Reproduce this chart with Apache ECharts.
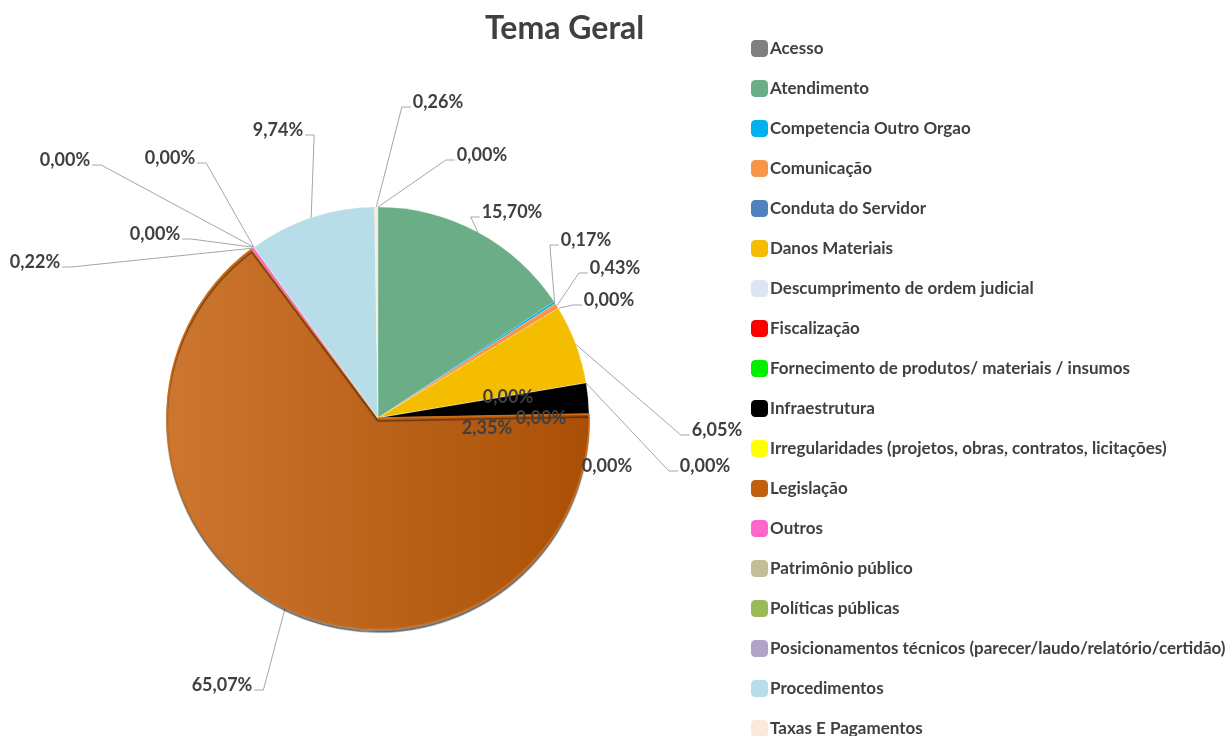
<!DOCTYPE html>
<html>
<head>
<meta charset="utf-8">
<script src="https://cdn.jsdelivr.net/npm/echarts@6/dist/echarts.min.js"></script>
<style>
html,body{margin:0;padding:0;background:#fff;}
#chart{width:1226px;height:736px;}
</style>
</head>
<body>
<div id="chart"></div>
<script>
var categories = [
  'Acesso', 'Atendimento', 'Competencia Outro Orgao', 'Comunicação', 'Conduta do Servidor',
  'Danos Materiais', 'Descumprimento de ordem judicial', 'Fiscalização',
  'Fornecimento de produtos/ materiais / insumos', 'Infraestrutura',
  'Irregularidades (projetos, obras, contratos, licitações)', 'Legislação', 'Outros',
  'Patrimônio público', 'Políticas públicas',
  'Posicionamentos técnicos (parecer/laudo/relatório/certidão)', 'Procedimentos',
  'Taxas E Pagamentos'
];
var values = [0, 15.70, 0.17, 0.43, 0, 6.05, 0, 0, 0, 2.35, 0, 65.07, 0.22, 0, 0, 0, 9.74, 0.26];
var colors = [
  '#7f7f7f', '#6aad87', '#00b0f0', '#f79646', '#4f81bd', '#f5bd00', '#dce6f2', '#ff0000',
  '#00f000', '#000000', '#ffff00', '#c0600e', '#ff66cc', '#c4bd97', '#9bbb59', '#b3a2c7',
  '#b7dee8', '#fde9d9'
];
// label placement: [centerX, centerY, leaderSide] (1: line enters from left, -1: from right, 0: no line)
var labelSpots = [
  [482, 155, 1], [512, 212, 1], [586, 240, 1], [615, 268, 1], [609, 300, 1],
  [717, 430, 1], [508, 397, 0], [541, 418, 0], [705, 466, 1], [487, 428, 0],
  [607, 466, 0], [222, 685, -1], [35, 262, -1], [155, 234, -1], [65, 160, -1],
  [170, 158, -1], [278, 130, -1], [438, 102, 1]
];

function fmt(v) { return v.toFixed(2).replace('.', ',') + '%'; }

var data = categories.map(function (c, i) {
  var item = { name: c, value: values[i], itemStyle: { color: colors[i] } };
  if (labelSpots[i][2] === 0) item.labelLine = { show: false };
  if (c === 'Legislação') {
    item.itemStyle = {
      color: new echarts.graphic.LinearGradient(0, 0, 1, 0, [
        { offset: 0, color: '#cd7630' }, { offset: 1, color: '#aa5006' }
      ]),
      borderColor: '#d16c14', borderWidth: 1.5,
      shadowColor: 'rgba(0,0,0,0.45)', shadowBlur: 1, shadowOffsetY: 3
    };
  }
  return item;
});

var legendData = categories.map(function (c, i) {
  return { name: c, itemStyle: { color: colors[i], borderWidth: 0, shadowBlur: 0, shadowOffsetY: 0 } };
});

var chart = echarts.init(document.getElementById('chart'), null, { renderer: 'canvas' });
chart.setOption({
  backgroundColor: '#ffffff',
  animation: false,
  title: {
    text: 'Tema Geral', left: 480, top: 8,
    textStyle: { fontFamily: 'Lato', fontSize: 32, fontWeight: 'bold', color: '#404040' }
  },
  legend: {
    orient: 'vertical', left: 746, top: 35, height: 760,
    itemWidth: 17, itemHeight: 17, itemGap: 23, icon: 'roundRect',
    data: legendData,
    textStyle: { fontFamily: 'Lato', fontSize: 17, fontWeight: 'bold', color: '#404040', padding: [0, 0, 0, -3] }
  },
  series: [{
    type: 'pie',
    center: [378, 418], radius: 211,
    startAngle: 90, clockwise: true,
    avoidLabelOverlap: false,
    minShowLabelAngle: 0,
    data: data,
    itemStyle: { borderColor: 'rgba(255,255,255,0.35)', borderWidth: 0.5 },
    label: {
      show: true, formatter: function (p) { return fmt(p.value); },
      fontFamily: 'Lato', fontSize: 18, fontWeight: 'bold', color: '#404040'
    },
    labelLine: { show: true, length: 10, length2: 10, lineStyle: { color: '#a6a6a6', width: 1 } },
    labelLayout: function (p) {
      var s = labelSpots[p.dataIndex];
      var w = p.labelRect.width;
      var res = { x: s[0], y: s[1], align: 'center', verticalAlign: 'middle' };
      if (s[2] !== 0 && p.labelLinePoints && p.labelLinePoints.length) {
        var a = p.labelLinePoints[0];
        var ex = s[2] > 0 ? s[0] - w / 2 - 2 : s[0] + w / 2 + 2;
        var bx = ex - s[2] * 9;
        res.labelLinePoints = [[a[0], a[1]], [bx, s[1] + 5], [ex, s[1] + 5]];
      }
      return res;
    }
  }]
});
</script>
</body>
</html>
